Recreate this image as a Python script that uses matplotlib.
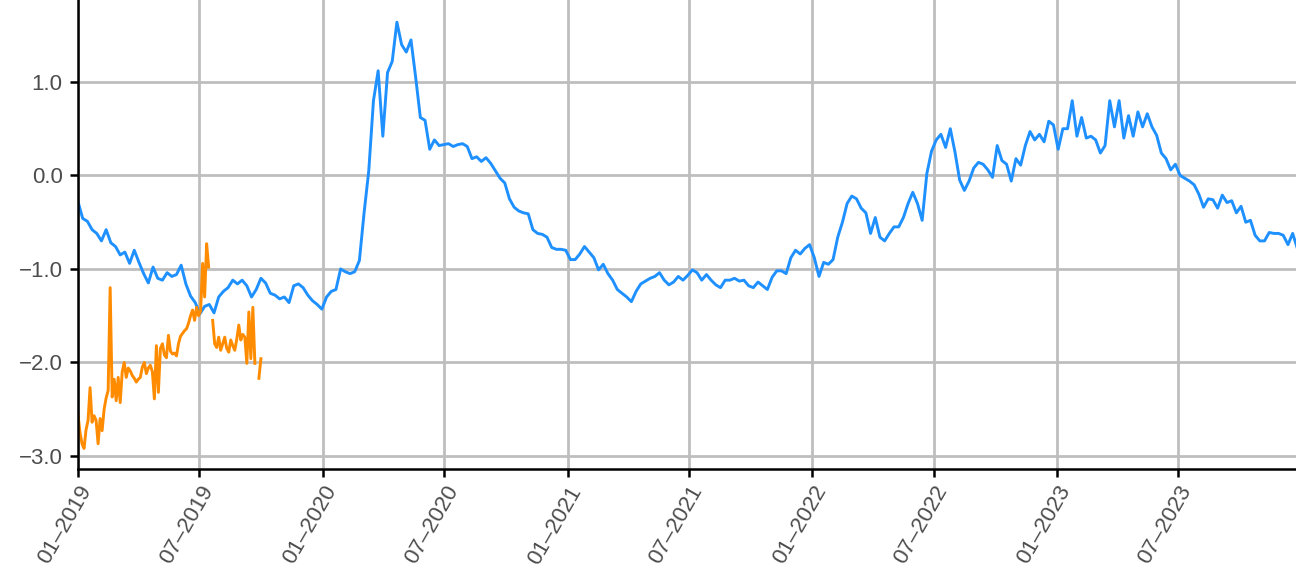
import matplotlib
matplotlib.use('Agg')
import matplotlib.pyplot as plt
import matplotlib.dates as mdates
from matplotlib.ticker import FuncFormatter
import numpy as np
import pandas as pd

plt.rcParams['font.family'] = ['Liberation Sans', 'DejaVu Sans']

# blue series: weekly values starting 2019-01-01
blue_start = '2019-01-01'
blue_vals = [
    -0.28, -0.46, -0.49, -0.58, -0.62, -0.70, -0.58, -0.72, -0.76, -0.85,
    -0.82, -0.94, -0.80, -0.93, -1.05, -1.15, -0.98, -1.10, -1.12, -1.04,
    -1.08, -1.06, -0.96, -1.16, -1.29, -1.36, -1.48, -1.40, -1.38, -1.47,
    -1.30, -1.24, -1.20, -1.12, -1.16, -1.12, -1.18, -1.30, -1.22, -1.10,
    -1.15, -1.26, -1.28, -1.32, -1.30, -1.36, -1.18, -1.16, -1.20, -1.28,
    -1.34, -1.38, -1.43, -1.30, -1.24, -1.22, -1.00, -1.03, -1.05, -1.03,
    -0.91, -0.40, 0.05, 0.80, 1.12, 0.42, 1.10, 1.22, 1.64, 1.40,
    1.32, 1.45, 1.05, 0.62, 0.59, 0.28, 0.38, 0.32, 0.33, 0.34,
    0.31, 0.33, 0.34, 0.31, 0.18, 0.20, 0.15, 0.19, 0.13, 0.05,
    -0.03, -0.08, -0.25, -0.34, -0.38, -0.40, -0.41, -0.58, -0.62, -0.63,
    -0.66, -0.77, -0.79, -0.79, -0.80, -0.90, -0.90, -0.84, -0.76, -0.82,
    -0.88, -1.01, -0.95, -1.05, -1.12, -1.22, -1.26, -1.30, -1.35, -1.24,
    -1.16, -1.13, -1.10, -1.08, -1.04, -1.12, -1.17, -1.14, -1.08, -1.12,
    -1.07, -1.01, -1.04, -1.12, -1.06, -1.12, -1.17, -1.20, -1.12, -1.12,
    -1.10, -1.13, -1.12, -1.18, -1.20, -1.14, -1.18, -1.22, -1.09, -1.02,
    -1.02, -1.05, -0.88, -0.80, -0.84, -0.78, -0.74, -0.88, -1.08, -0.93,
    -0.95, -0.90, -0.66, -0.50, -0.30, -0.22, -0.25, -0.35, -0.40, -0.62,
    -0.45, -0.66, -0.70, -0.62, -0.55, -0.55, -0.45, -0.30, -0.18, -0.30,
    -0.48, 0.02, 0.26, 0.38, 0.44, 0.30, 0.50, 0.25, -0.05, -0.16,
    -0.06, 0.08, 0.14, 0.12, 0.06, -0.02, 0.32, 0.16, 0.12, -0.06,
    0.18, 0.11, 0.32, 0.47, 0.38, 0.44, 0.36, 0.58, 0.54, 0.28,
    0.50, 0.50, 0.80, 0.42, 0.62, 0.40, 0.42, 0.38, 0.24, 0.32,
    0.80, 0.52, 0.80, 0.40, 0.64, 0.42, 0.68, 0.52, 0.66, 0.52,
    0.43, 0.24, 0.18, 0.06, 0.12, 0.00, -0.03, -0.06, -0.10, -0.20,
    -0.34, -0.25, -0.26, -0.35, -0.21, -0.29, -0.27, -0.40, -0.33, -0.50,
    -0.48, -0.64, -0.70, -0.70, -0.61, -0.62, -0.62, -0.64, -0.74, -0.62,
    -0.78, -0.80,
]

# orange series: values every 3 days starting 2019-01-01
orange_start = '2019-01-01'
orange_vals = [
    -2.56, -2.75, -2.87, -2.92, -2.72, -2.62, -2.27, -2.64, -2.57, -2.62,
    -2.87, -2.60, -2.73, -2.50, -2.38, -2.30, -1.20, -2.37, -2.18, -2.41,
    -2.16, -2.43, -2.10, -2.00, -2.16, -2.06, -2.09, -2.14, -2.17, -2.21,
    -2.18, -2.16, -2.05, -2.00, -2.12, -2.06, -2.03, -2.10, -2.39, -1.82,
    -2.32, -1.85, -1.80, -1.92, -1.95, -1.71, -1.88, -1.91, -1.90, -1.93,
    -1.80, -1.72, -1.69, -1.66, -1.64, -1.58, -1.50, -1.44, -1.55, -1.41,
    -1.50, -1.45, -0.94, -1.30, -0.73, -0.98, np.nan, -1.55, -1.80, -1.84,
    -1.73, -1.87, -1.80, -1.73, -1.85, -1.89, -1.76, -1.82, -1.87, -1.75,
    -1.60, -1.76, -1.70, -1.73, -2.01, -1.46, -1.96, -1.41, -2.01, np.nan,
    -2.17, -1.96,
]

y_ticks = [-3.0, -2.0, -1.0, 0.0, 1.0]

blue_dates = pd.date_range(blue_start, periods=len(blue_vals), freq='7D')
orange_dates = pd.date_range(orange_start, periods=len(orange_vals), freq='3D')

fig = plt.figure(figsize=(12.96, 5.78), dpi=100)
ax = fig.add_axes([78 / 1296, 1 - 469 / 578, 1 - 78 / 1296, 469 / 578])

ax.plot(blue_dates, blue_vals, color='#1e90ff', linewidth=2.1)
ax.plot(orange_dates, orange_vals, color='#ff8c00', linewidth=2.1)

ax.set_xlim(pd.Timestamp('2019-01-01'), pd.Timestamp('2023-12-24'))
ax.set_ylim(-3.14, 1.877)

ax.set_yticks(y_ticks)
ax.yaxis.set_major_formatter(FuncFormatter(lambda v, p: f'{v:.1f}'.replace('-', '\u2212')))
ax.xaxis.set_major_locator(mdates.MonthLocator(bymonth=[1, 7]))
ax.xaxis.set_major_formatter(mdates.DateFormatter('%m\u2013%Y'))

ax.grid(True, color='#bebebe', linewidth=2.0)
ax.set_axisbelow(True)
for s in ['top', 'right']:
    ax.spines[s].set_visible(False)
for s in ['left', 'bottom']:
    ax.spines[s].set_linewidth(1.8)
    ax.spines[s].set_color('black')

ax.tick_params(axis='both', length=6, width=1.8, color='black',
               labelcolor='#4d4d4d', labelsize=16)
ax.tick_params(axis='y', pad=5)
plt.setp(ax.get_xticklabels(), rotation=60, ha='right', rotation_mode='anchor')

fig.savefig('out.png', dpi=100)
